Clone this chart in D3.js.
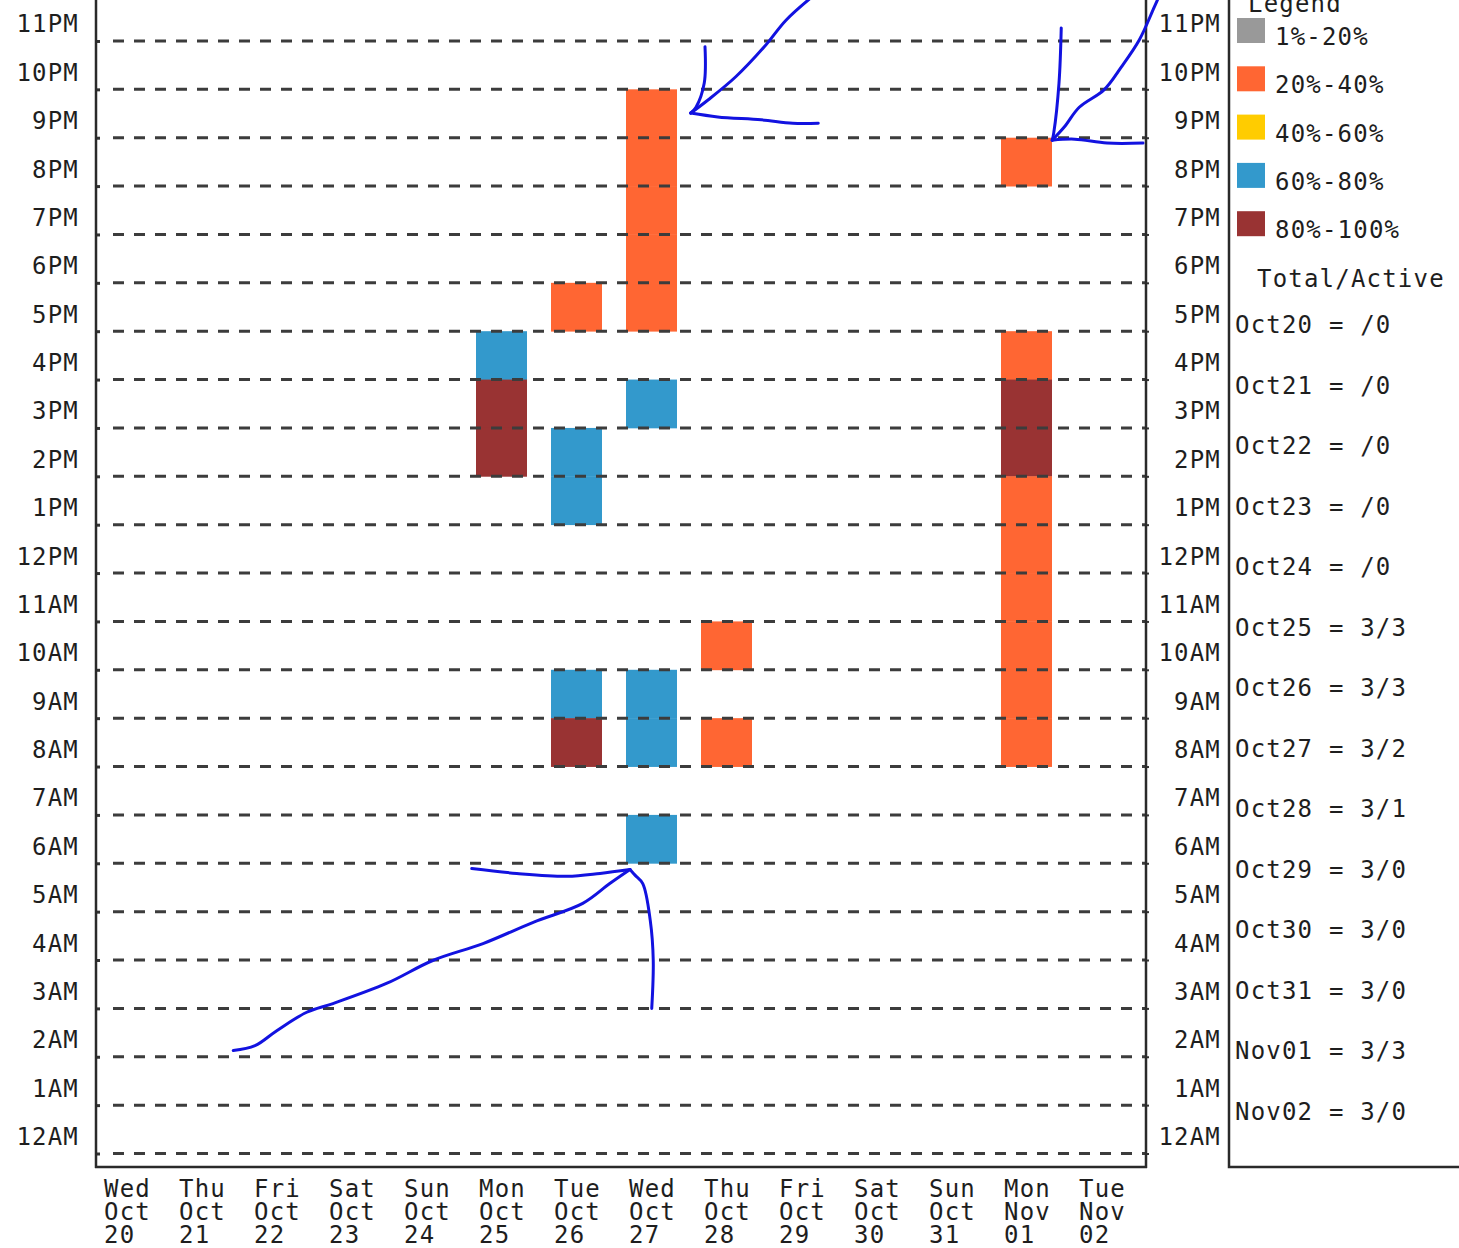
<!DOCTYPE html>
<html><head><meta charset="utf-8">
<script src="https://cdn.jsdelivr.net/npm/d3@7/dist/d3.min.js"></script>
<style>
html,body{margin:0;padding:0;background:#fff;overflow:hidden}
svg{display:block}
text{font-family:"DejaVu Sans Mono",monospace;font-size:24px;fill:#1e1e1e;letter-spacing:1.2px}
</style></head><body>
<svg id="chart" width="1459" height="1248"></svg>
<script>
// ---- data ----
const days = ["Oct20","Oct21","Oct22","Oct23","Oct24","Oct25","Oct26","Oct27","Oct28","Oct29","Oct30","Oct31","Nov01","Nov02"];
const weekdayLabels = ["Wed","Thu","Fri","Sat","Sun","Mon","Tue","Wed","Thu","Fri","Sat","Sun","Mon","Tue"];
const monthLabels = ["Oct","Oct","Oct","Oct","Oct","Oct","Oct","Oct","Oct","Oct","Oct","Oct","Nov","Nov"];
const dateLabels = ["20","21","22","23","24","25","26","27","28","29","30","31","01","02"];
const hourLabels = ["12AM","1AM","2AM","3AM","4AM","5AM","6AM","7AM","8AM","9AM","10AM","11AM",
                    "12PM","1PM","2PM","3PM","4PM","5PM","6PM","7PM","8PM","9PM","10PM","11PM"];
const levelLabels = ["1%-20%","20%-40%","40%-60%","60%-80%","80%-100%"];
const levelColors = ["#999999","#ff6633","#ffcc00","#3399cc","#993333"];
const totals  = ["","","","","","3","3","3","3","3","3","3","3","3"];
const actives = ["0","0","0","0","0","3","3","2","1","0","0","0","3","0"];
// [day, hour, level index]
const cells = [
  ["Oct25",16,3],["Oct25",15,4],["Oct25",14,4],
  ["Oct26",17,1],["Oct26",14,3],["Oct26",13,3],["Oct26",9,3],["Oct26",8,4],
  ["Oct27",21,1],["Oct27",20,1],["Oct27",19,1],["Oct27",18,1],["Oct27",17,1],
  ["Oct27",15,3],["Oct27",9,3],["Oct27",8,3],["Oct27",6,3],
  ["Oct28",10,1],["Oct28",8,1],
  ["Nov01",20,1],["Nov01",16,1],["Nov01",15,4],["Nov01",14,4],
  ["Nov01",13,1],["Nov01",12,1],["Nov01",11,1],["Nov01",10,1],["Nov01",9,1],["Nov01",8,1]
];
// hand-drawn annotation strokes, in [day units, hours]
const annotations = [
  [[5.01,5.89],[5.61,5.79],[6.28,5.73],[6.72,5.79],[7.12,5.87]],
  [[7.12,5.87],[6.85,5.58],[6.49,5.17],[5.83,4.78],[5.16,4.34],[4.49,3.99],[3.88,3.52],[3.16,3.10],[2.81,2.92],[2.41,2.54],[2.12,2.23],[1.83,2.13]],
  [[7.12,5.87],[7.19,5.75],[7.29,5.58],[7.39,4.82],[7.43,3.99],[7.41,3.0]],
  [[8.12,22.88],[8.11,22.13],[8.0,21.63],[7.93,21.51]],
  [[7.93,21.51],[8.16,21.78],[8.53,22.26],[8.91,22.88],[9.2,23.43],[9.53,23.89]],
  [[7.93,21.51],[8.29,21.43],[8.87,21.37],[9.29,21.3],[9.63,21.3]],
  [[12.87,23.27],[12.84,22.13],[12.77,21.1],[12.75,20.95]],
  [[12.75,20.95],[12.91,21.22],[13.11,21.63],[13.44,21.99],[13.67,22.46],[13.91,23.02],[14.11,23.7],[14.21,24.05]],
  [[12.75,20.95],[13.05,20.97],[13.48,20.89],[13.96,20.89]]
];

// ---- layout ----
const svg = d3.select("#chart");
const left = 96, right = 1146, frameBottom = 1167;
const x = d3.scaleBand().domain(days).range([left, right]).padding(0);
const xLin = d3.scaleLinear().domain([0, days.length]).range([left, right]);
const y = d3.scaleLinear().domain([0, 24]).range([1153.5, -7.4]);
const hours = d3.range(24);

// bars
svg.append("g").selectAll("rect").data(cells).join("rect")
  .attr("x", d => x(d[0]) + 5)
  .attr("width", 51)
  .attr("y", d => y(d[1] + 1))
  .attr("height", d => y(d[1]) - y(d[1] + 1) + 0.4)
  .attr("fill", d => levelColors[d[2]]);

// dashed grid lines (on top of bars)
svg.append("g").selectAll("line").data(hours).join("line")
  .attr("x1", left + 17).attr("x2", right)
  .attr("y1", d => y(d)).attr("y2", d => y(d))
  .attr("stroke", "#3c3c3c").attr("stroke-width", 3)
  .attr("stroke-dasharray", "11,10");

// left axis
const gl = svg.append("g").attr("transform", `translate(${left},0)`)
  .call(d3.axisLeft(y).tickValues(hours).tickFormat(h => hourLabels[h]).tickSize(-4).tickSizeOuter(0).tickPadding(17));
gl.select(".domain").remove();
gl.selectAll(".tick line").attr("stroke", "#333").attr("stroke-width", 3);
gl.selectAll("text").attr("dy", -9);

// right axis
const gr = svg.append("g").attr("transform", `translate(${right},0)`)
  .call(d3.axisRight(y).tickValues(hours).tickFormat(h => hourLabels[h]).tickSize(3).tickSizeOuter(0));
gr.select(".domain").remove();
gr.selectAll(".tick line").attr("stroke", "#333").attr("stroke-width", 2);
gr.selectAll("text").attr("x", 75).attr("text-anchor", "end").attr("dy", -9);

// frame
const frame = svg.append("g").attr("stroke", "#2a2a2a").attr("stroke-width", 2.5).attr("fill", "none");
frame.append("line").attr("x1", left).attr("x2", left).attr("y1", -10).attr("y2", frameBottom + 1);
frame.append("line").attr("x1", right).attr("x2", right).attr("y1", -10).attr("y2", frameBottom + 1);
frame.append("line").attr("x1", left - 1).attr("x2", right + 1).attr("y1", frameBottom).attr("y2", frameBottom);

// bottom labels
const xl = svg.append("g").selectAll("text").data(days).join("text")
  .attr("x", d => x(d) + 8).attr("y", 1197);
xl.append("tspan").attr("x", d => x(d) + 8).attr("y", 1197).text((d, i) => weekdayLabels[i]);
xl.append("tspan").attr("x", d => x(d) + 8).attr("y", 1220).text((d, i) => monthLabels[i]);
xl.append("tspan").attr("x", d => x(d) + 8).attr("y", 1243).text((d, i) => dateLabels[i]);

// legend panel
const legX = 1229;
svg.append("path").attr("d", `M${legX},-10V${frameBottom}H1465`)
  .attr("stroke", "#2a2a2a").attr("stroke-width", 2.5).attr("fill", "none");
svg.append("text").attr("x", 1248).attr("y", 12).text("Legend");
const lg = svg.append("g").selectAll("g").data(levelLabels).join("g")
  .attr("transform", (d, i) => `translate(0,${18 + i * 48.3})`);
lg.append("rect").attr("x", 1237).attr("y", 0).attr("width", 28).attr("height", 25)
  .attr("fill", (d, i) => levelColors[i]);
lg.append("text").attr("x", 1275).attr("y", 27).text(d => d);
svg.append("text").attr("x", 1257).attr("y", 287).text("Total/Active");
svg.append("g").selectAll("text").data(days).join("text")
  .attr("x", 1235).attr("y", (d, i) => 333 + i * 60.54)
  .text((d, i) => `${d} = ${totals[i]}/${actives[i]}`);

// hand-drawn annotations
const line = d3.line().x(p => xLin(p[0])).y(p => y(p[1])).curve(d3.curveCatmullRom.alpha(0.5));
svg.append("g").selectAll("path").data(annotations).join("path")
  .attr("d", line).attr("fill", "none").attr("stroke", "#1212e0")
  .attr("stroke-width", 3).attr("stroke-linecap", "round").attr("stroke-linejoin", "round");
</script>
</body></html>
